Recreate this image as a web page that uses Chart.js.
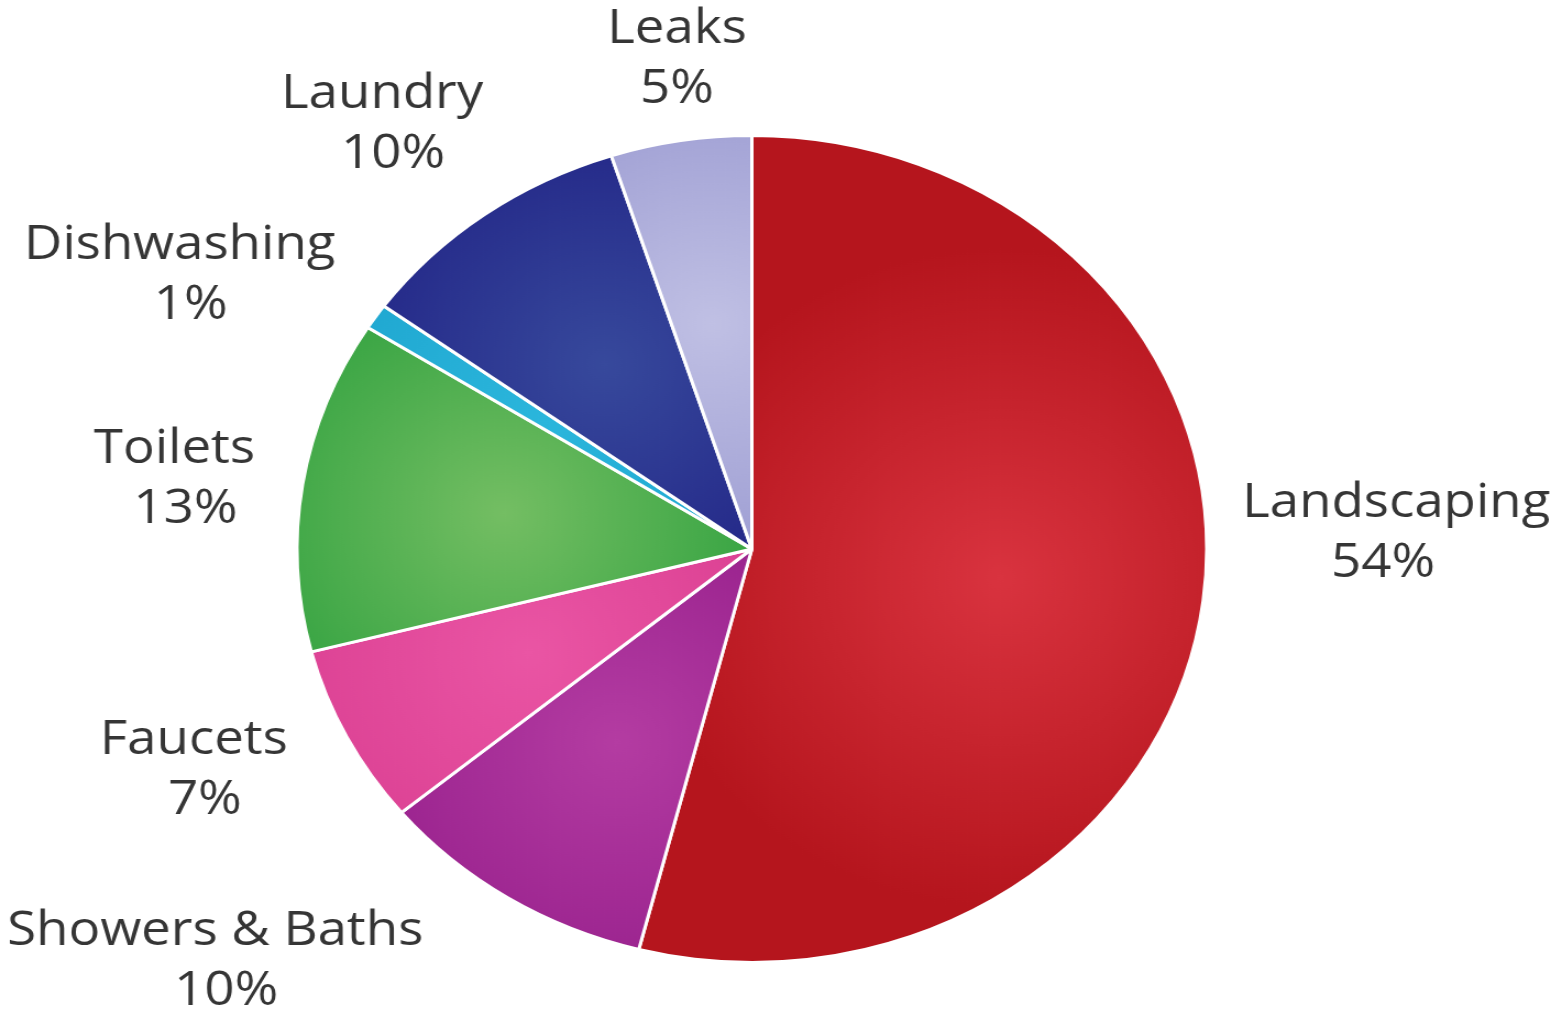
<!DOCTYPE html>
<html>
<head>
    <title>Household Water Use Pie Chart</title>
    <script src="https://cdn.jsdelivr.net/npm/chart.js"></script>
    <style>
        html, body { margin: 0; padding: 0; background: #fff; overflow: hidden; }
        /* the original picture is a bit wider than tall, so stretch the drawing */
        #wrap {
            width: 1420px;
            height: 1010px;
            transform: scaleX(1.1);
            transform-origin: 0 0;
        }
    </style>
</head>
<body>
    <div id="wrap">
        <canvas id="waterPie" width="1420" height="1010"></canvas>
    </div>
    <script>
        // data, clockwise from 12 o'clock
        const categories = ['Landscaping', 'Showers & Baths', 'Faucets', 'Toilets', 'Dishwashing', 'Laundry', 'Leaks'];
        const shares = [54, 10, 7, 13, 1, 10, 5];

        const innerColors = ['#d9333f', '#b43ca2', '#ea55a4', '#74be63', '#2bb6dc', '#37499c', '#c0c0e4'];
        const outerColors = ['#b5151d', '#8f1886', '#d5388c', '#1f9a36', '#199fca', '#1c1a80', '#9090cc'];

        // hand placement tweaks for the labels (dx, dy)
        const labelNudge = [[-24, -75], [-45, 13], [0, 6], [16, 4], [13, -8], [34, -42], [6, -22]];

        const total = shares.reduce((a, b) => a + b, 0);

        function sliceGradient(context) {
            const chart = context.chart;
            const area = chart.chartArea;
            if (!area) return innerColors[context.dataIndex];
            const i = context.dataIndex;
            const cx = (area.left + area.right) / 2;
            const cy = (area.top + area.bottom) / 2;
            const r = Math.min(area.right - area.left, area.bottom - area.top) / 2;
            let before = 0;
            for (let k = 0; k < i; k++) before += shares[k];
            const mid = -Math.PI / 2 + (before + shares[i] / 2) / total * Math.PI * 2;
            const gx = cx + Math.cos(mid) * r * 0.55;
            const gy = cy + Math.sin(mid) * r * 0.55;
            const g = chart.ctx.createRadialGradient(gx, gy, 0, gx, gy, r * 0.8);
            g.addColorStop(0, innerColors[i]);
            g.addColorStop(1, outerColors[i]);
            return g;
        }

        const labelPlugin = {
            id: 'sliceLabels',
            afterDatasetsDraw(chart) {
                const ctx = chart.ctx;
                const arcs = chart.getDatasetMeta(0).data;
                ctx.save();
                ctx.font = '48px "Open Sans"';
                ctx.fillStyle = '#353535';
                ctx.textBaseline = 'middle';
                ctx.textAlign = 'center';
                arcs.forEach((arc, i) => {
                    const mid = (arc.startAngle + arc.endAngle) / 2;
                    const dist = arc.outerRadius + 60;
                    let x = arc.x + Math.cos(mid) * dist + labelNudge[i][0];
                    const y = arc.y + Math.sin(mid) * dist + labelNudge[i][1];
                    const lines = [categories[i], shares[i] + '%'];
                    const w = Math.max(...lines.map(t => ctx.measureText(t).width));
                    // the percentage sits a little off the name's centre in the original
                    let shift = 0;
                    if (Math.cos(mid) > 0.3) { x += w / 2; shift = -12; }
                    else if (Math.cos(mid) < -0.3) { x -= w / 2; shift = 10; }
                    ctx.fillText(lines[0], x, y - 30);
                    ctx.fillText(lines[1], x + shift, y + 30);
                });
                ctx.restore();
            }
        };

        new Chart(document.getElementById('waterPie'), {
            type: 'pie',
            data: {
                labels: categories,
                datasets: [{
                    data: shares,
                    backgroundColor: sliceGradient,
                    borderColor: '#ffffff',
                    borderWidth: 3
                }]
            },
            options: {
                responsive: false,
                animation: false,
                layout: {
                    padding: { top: 134, bottom: 46, left: 268, right: 321 }
                },
                plugins: {
                    legend: { display: false },
                    tooltip: { enabled: false }
                }
            },
            plugins: [labelPlugin]
        });
    </script>
</body>
</html>
